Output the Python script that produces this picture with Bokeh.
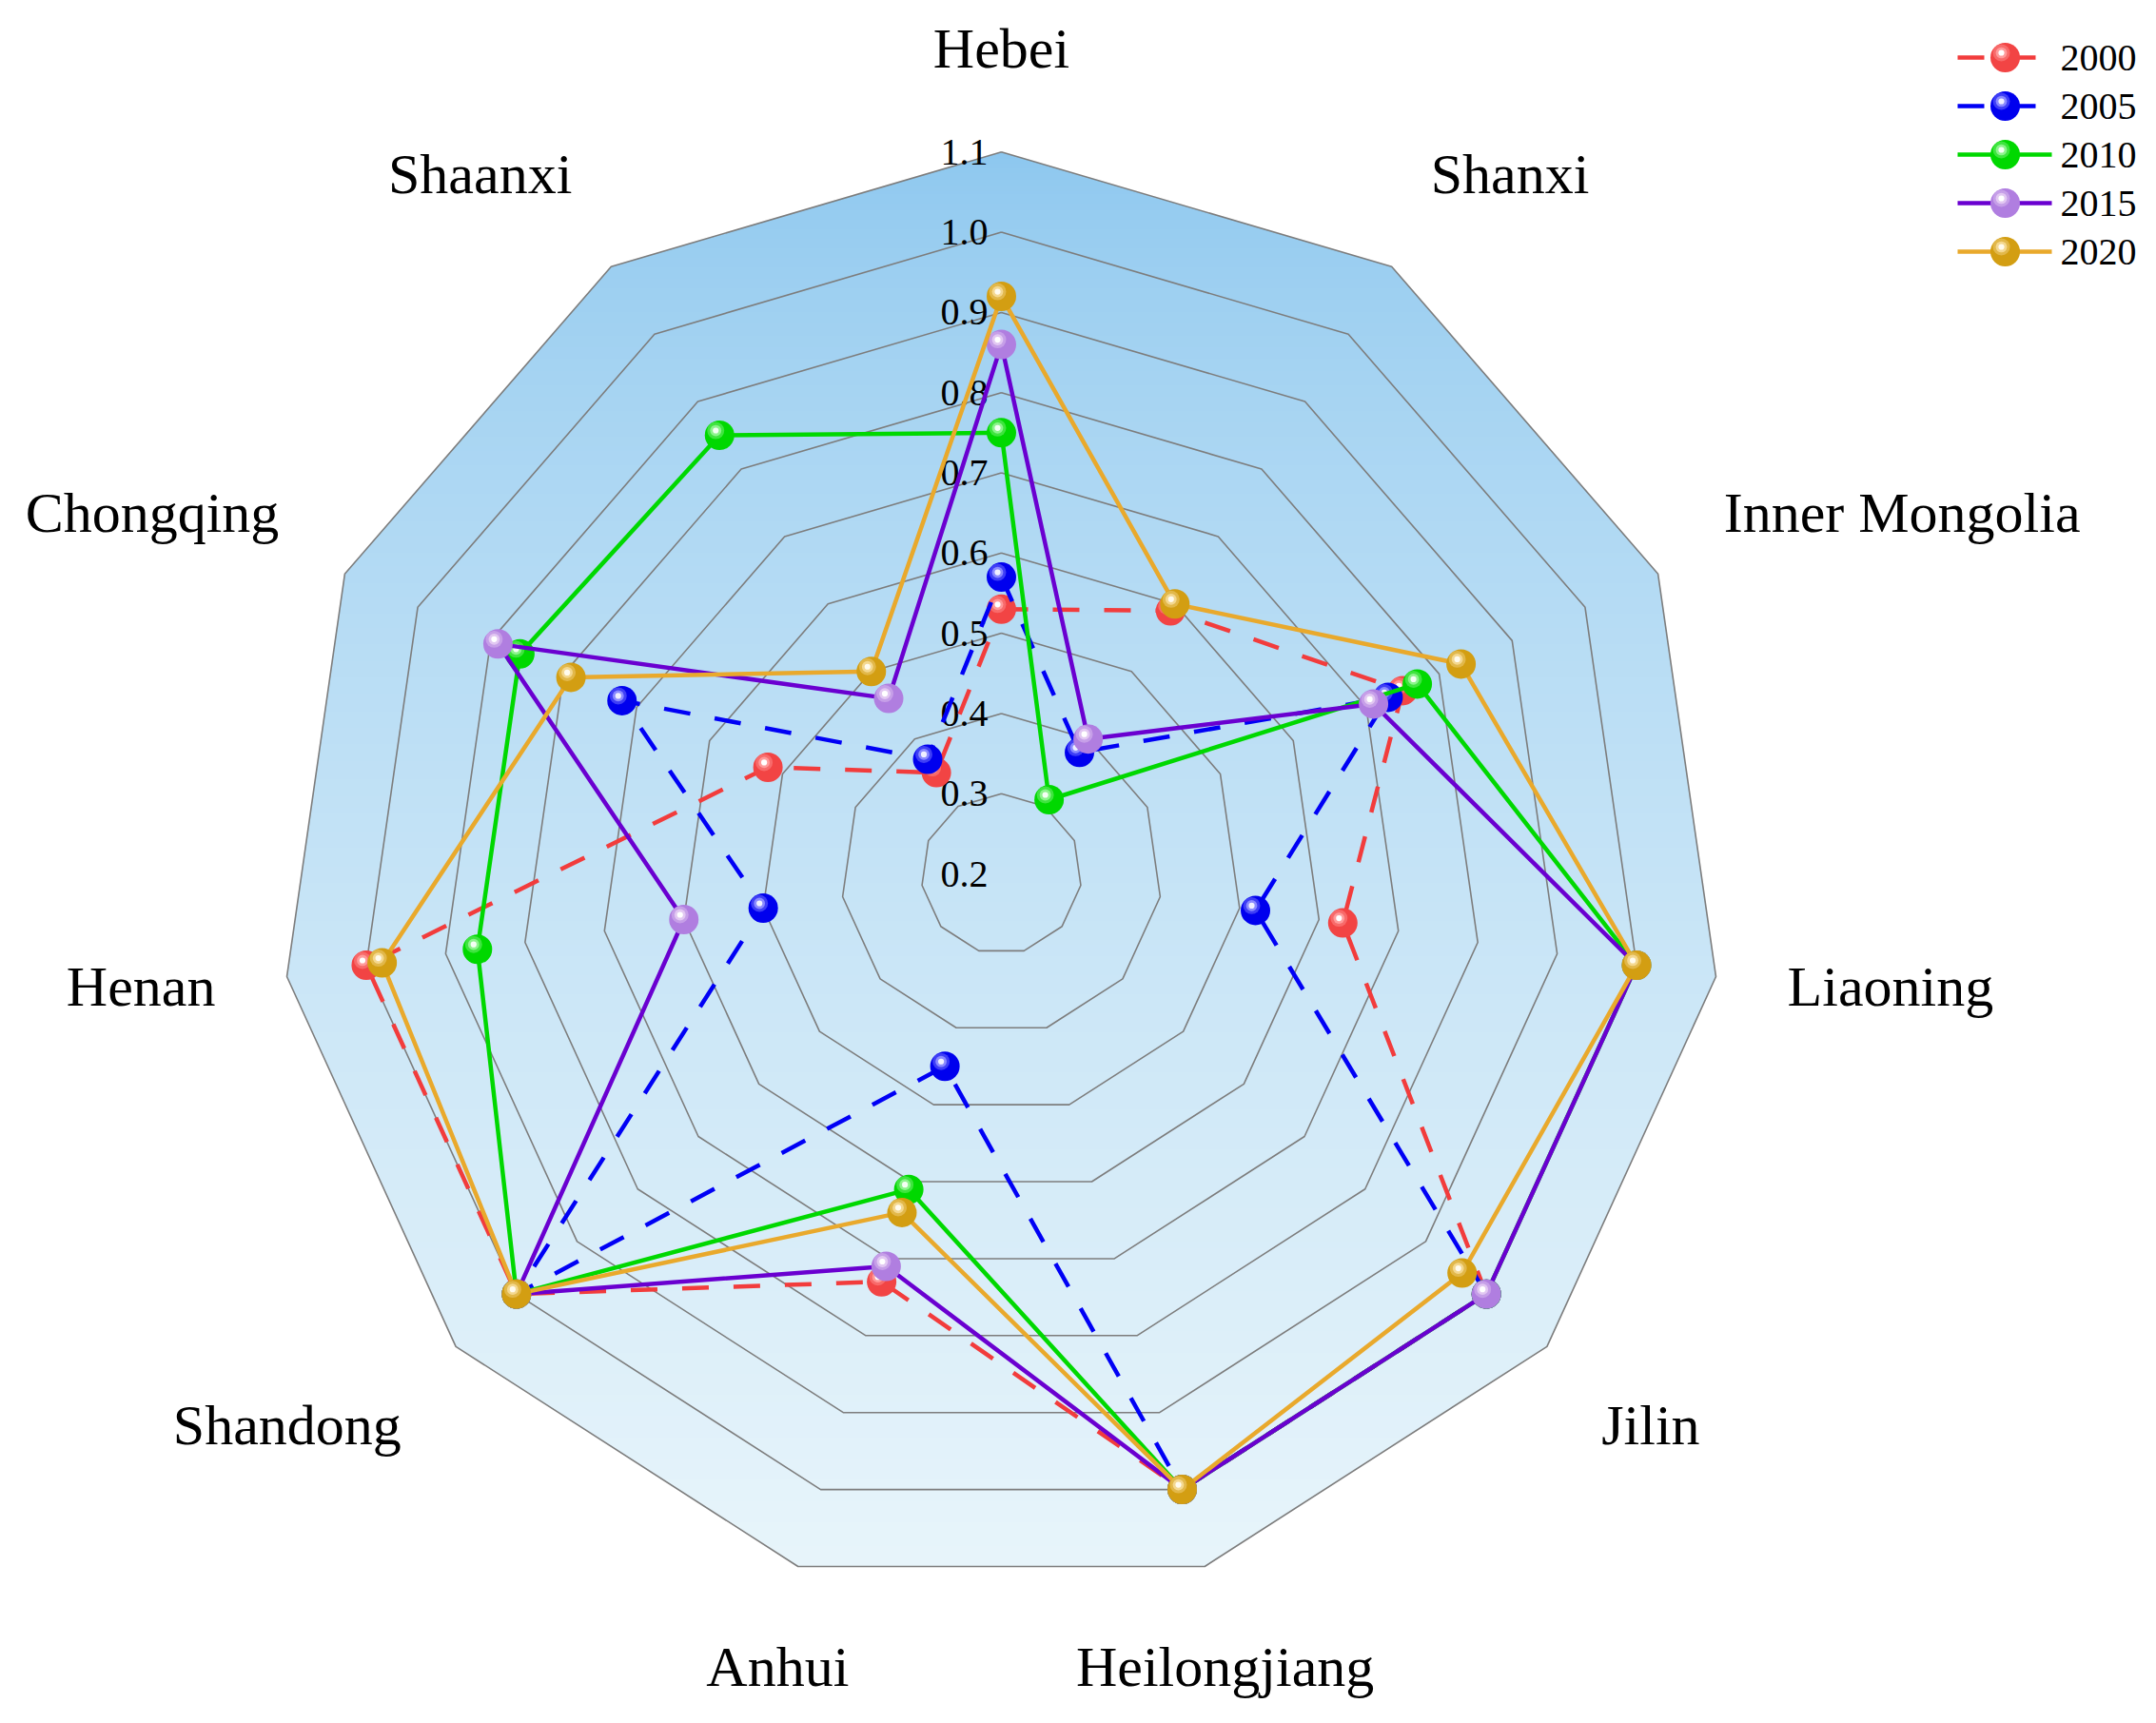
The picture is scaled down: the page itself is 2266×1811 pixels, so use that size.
import numpy as np
from bokeh.plotting import figure
from bokeh.models import Range1d
from bokeh.embed import file_html
from bokeh.resources import INLINE
from bokeh.core.properties import value

# ---------------- data ----------------
categories = ["Hebei", "Shanxi", "Inner Mongolia", "Liaoning", "Jilin", "Heilongjiang",
              "Anhui", "Shandong", "Henan", "Chongqing", "Shaanxi"]
years = ["2000", "2005", "2010", "2015", "2020"]
v2000 = [0.53, 0.59, 0.75, 0.63, 1.00, 1.00, 0.73, 1.00, 1.00, 0.52, 0.35]
v2005 = [0.57, 0.38, 0.73, 0.52, 1.00, 1.00, 0.45, 1.00, 0.50, 0.72, 0.37]
v2010 = [0.75, 0.31, 0.77, 1.00, 1.00, 1.00, 0.61, 1.00, 0.86, 0.86, 0.85]
v2015 = [0.86, 0.40, 0.71, 1.00, 1.00, 1.00, 0.71, 1.00, 0.60, 0.89, 0.46]
v2020 = [0.92, 0.60, 0.83, 1.00, 0.96, 1.00, 0.64, 1.00, 0.98, 0.79, 0.50]
ticks = [0.2, 0.3, 0.4, 0.5, 0.6, 0.7, 0.8, 0.9, 1.0, 1.1]
tick_labels = ["0.2", "0.3", "0.4", "0.5", "0.6", "0.7", "0.8", "0.9", "1.0", "1.1"]
R_MIN, R_MAX = 0.2, 1.1

# ---------------- styles ----------------
series_values = [v2000, v2005, v2010, v2015, v2020]
line_colors = ["#f23c3c", "#0000f5", "#00d800", "#6a00d0", "#e9a92c"]
line_dashes = ["28 26", "28 26", "solid", "solid", "solid"]
ball_base = ["#f24444", "#0000ee", "#00d800", "#b07ee0", "#d39e12"]
ball_mid = ["#ff9a9a", "#8a8aff", "#8cf48c", "#e2c8f2", "#f4d890"]
ball_core = ["#ffffff", "#f0f0ff", "#f4fff4", "#ffffff", "#fffbee"]
FONT = "Liberation Serif"

W, H = 2260, 1805
SCALE = 843.0           # px per unit of value
CX, CY = 1052.0, 918.0  # centre in canvas px

def px_x(cx):
    return (cx - CX) / SCALE

def px_y(cy):
    return (CY - cy) / SCALE

p = figure(width=W, height=H, output_backend="svg", toolbar_location=None,
           x_range=Range1d(px_x(0), px_x(W)), y_range=Range1d(px_y(H), px_y(0)),
           min_border=0, outline_line_color=None)
p.axis.visible = False
p.grid.visible = False
p.background_fill_color = "white"
p.border_fill_color = "white"

n = len(categories)
theta = np.pi / 2 - 2 * np.pi * np.arange(n) / n
cos_t, sin_t = np.cos(theta), np.sin(theta)
Rout = R_MAX - R_MIN

# ---------------- gradient background ----------------
ytop = Rout
ybot = -Rout * np.max(-sin_t)
N = 600
top_col = np.array([140, 199, 239], dtype=float)
bot_col = np.array([232, 245, 251], dtype=float)
img = np.empty((N, 2), dtype=np.uint32)
view = img.view(dtype=np.uint8).reshape((N, 2, 4))
yy = ybot + (np.arange(N) + 0.5) * (ytop - ybot) / N
f = ((ytop - yy) / (ytop - ybot)) ** 0.7
cols = top_col[None, :] * (1 - f[:, None]) + bot_col[None, :] * f[:, None]
for j in range(2):
    view[:, j, 0:3] = cols.astype(np.uint8)
    view[:, j, 3] = 255
p.image_rgba(image=[img], x=-Rout, y=ybot, dw=2 * Rout, dh=ytop - ybot)

# white mask outside polygon
px_poly = list(Rout * cos_t)
py_poly = list(Rout * sin_t)
B = Rout + 0.05
p.multi_polygons(xs=[[[[-B, B, B, -B], px_poly]]], ys=[[[[-B, -B, B, B], py_poly]]],
                 fill_color="white", line_color=None)

# ---------------- rings ----------------
for t in ticks[1:]:
    r = t - R_MIN
    xs = list(r * cos_t) + [r * cos_t[0]]
    ys = list(r * sin_t) + [r * sin_t[0]]
    p.line(xs, ys, line_color="#7d7d7d", line_width=1.6)

# radial tick labels
p.text(x=[0.0] * len(ticks), y=[t - R_MIN for t in ticks], text=tick_labels,
       text_align="right", text_baseline="middle", x_offset=-14,
       text_font=value(FONT), text_font_size="40px", text_color="black")

# ---------------- series ----------------
HL_DX, HL_DY = -4 / SCALE, 5 / SCALE

def sphere(xs, ys, i, size=31):
    xs = np.asarray(xs)
    ys = np.asarray(ys)
    p.scatter(xs, ys, size=size, fill_color=ball_base[i], line_color=None)
    p.scatter(xs + HL_DX, ys + HL_DY, size=size * 0.58, fill_color=ball_mid[i],
              fill_alpha=0.45, line_color=None)
    p.scatter(xs + HL_DX, ys + HL_DY, size=size * 0.38, fill_color=ball_mid[i], line_color=None)
    p.scatter(xs + HL_DX, ys + HL_DY, size=size * 0.2, fill_color=ball_core[i], line_color=None)

for i, vals in enumerate(series_values):
    r = np.array(vals) - R_MIN
    xs = r * cos_t
    ys = r * sin_t
    p.line(list(xs) + [xs[0]], list(ys) + [ys[0]], line_color=line_colors[i],
           line_width=4.5, line_dash=line_dashes[i])
    sphere(xs, ys, i)

# ---------------- category labels ----------------
LABEL_R = 0.99
for k, name in enumerate(categories):
    c, s = cos_t[k], sin_t[k]
    align = "left" if c > 0.3 else ("right" if c < -0.3 else "center")
    base = "bottom" if s > 0.3 else ("top" if s < -0.3 else "middle")
    p.text(x=[LABEL_R * c], y=[LABEL_R * s], text=[name], text_align=align,
           text_baseline=base, text_font=value(FONT), text_font_size="60px",
           text_color="black")

# ---------------- legend ----------------
LEG_X0, LEG_X1, LEG_XM, LEG_TX = 2057, 2156, 2107, 2165
LEG_Y0, LEG_DY = 60, 51
for i, yr in enumerate(years):
    cy = LEG_Y0 + LEG_DY * i
    p.line([px_x(LEG_X0), px_x(LEG_X1)], [px_y(cy), px_y(cy)], line_color=line_colors[i],
           line_width=4.5, line_dash=line_dashes[i])
    sphere([px_x(LEG_XM)], [px_y(cy)], i, size=31)
    p.text(x=[px_x(LEG_TX)], y=[px_y(cy)], text=[yr], text_align="left",
           text_baseline="middle", text_font=value(FONT), text_font_size="40px",
           text_color="black")

open("out.html", "w").write(file_html(p, INLINE))
